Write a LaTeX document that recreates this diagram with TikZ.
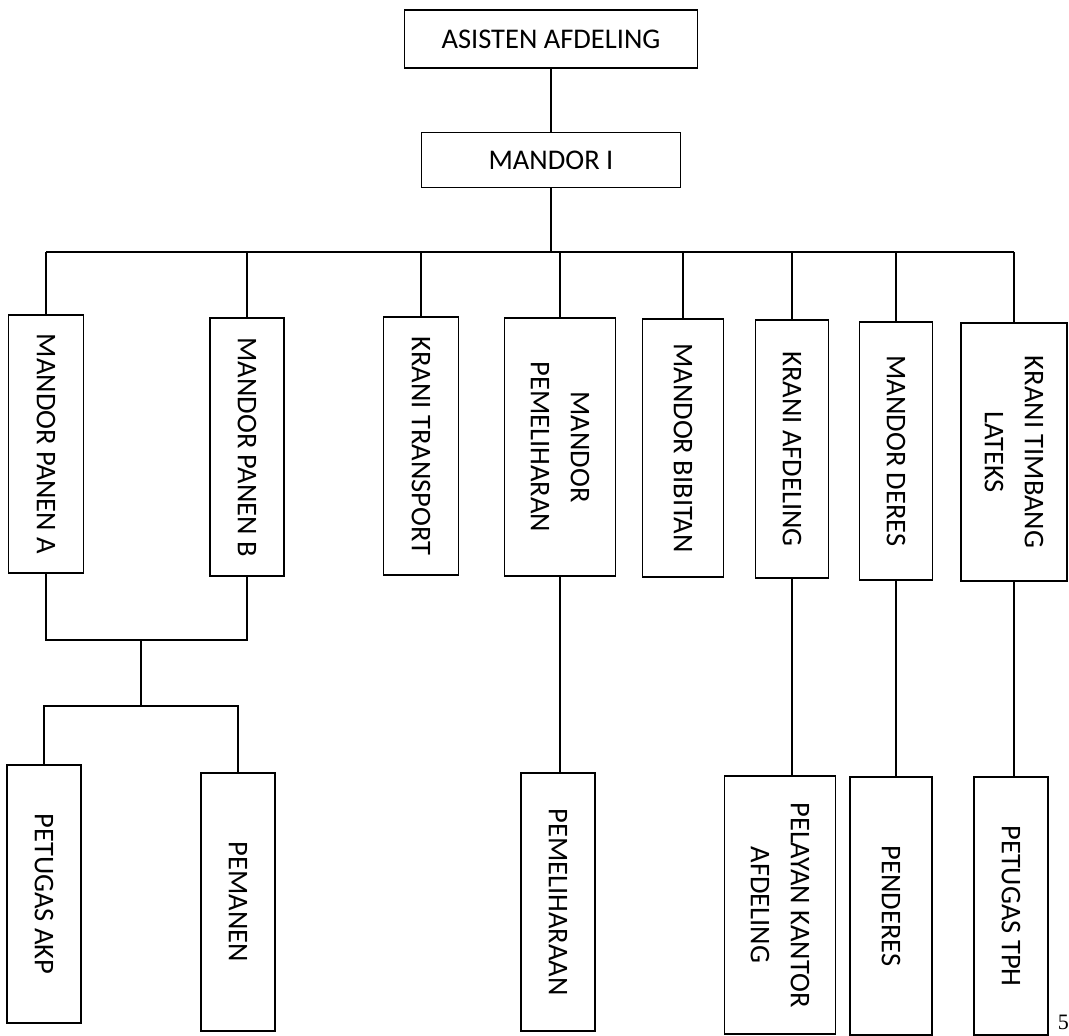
\documentclass[tikz,border=0pt]{standalone}
\usepackage{fontspec}
\setmainfont{Carlito}
\newfontfamily\pagefont{Liberation Serif}
\tikzset{
  box/.style={draw, line width=1.4pt, inner sep=2pt, align=center, font=\fontsize{28.5}{40}\selectfont},
  vbox/.style={box, rotate=-90, minimum width=258pt, minimum height=#1},
  link/.style={line width=1.4pt},
}

\begin{document}
\begin{tikzpicture}[x=1pt,y=-1pt]
  \useasboundingbox (0,0) rectangle (1069,1036);
  \node[box, minimum width=293pt, minimum height=58pt] (asisten) at (551,39) {ASISTEN AFDELING};
  \node[box, minimum width=259pt, minimum height=55pt] (mandor1) at (551,160) {MANDOR I};

  \node[vbox=75pt] (panenA) at (46,444) {MANDOR PANEN A};
  \node[vbox=74pt] (panenB) at (247,447) {MANDOR PANEN B};
  \node[vbox=75pt] (transport) at (421,446) {KRANI TRANSPORT};
  \node[vbox=111pt] (mpelihara) at (560,447) {MANDOR\\PEMELIHARAN};
  \node[vbox=81pt] (bibitan) at (683,448) {MANDOR BIBITAN};
  \node[vbox=73pt] (kafdeling) at (792,449) {KRANI AFDELING};
  \node[vbox=73pt] (deres) at (896,451) {MANDOR DERES};
  \node[vbox=106pt] (timbang) at (1014,452) {KRANI TIMBANG\\LATEKS};

  \node[vbox=74pt] (akp) at (44,894) {PETUGAS AKP};
  \node[vbox=74pt] (pemanen) at (238,902) {PEMANEN};
  \node[vbox=74pt] (pelihara) at (558,902) {PEMELIHARAAN};
  \node[vbox=111pt] (pelayan) at (780,905) {PELAYAN KANTOR\\AFDELING};
  \node[vbox=82pt] (penderes) at (891,906) {PENDERES};
  \node[vbox=74pt] (tph) at (1011,906) {PETUGAS TPH};

  \node[font=\pagefont\fontsize{22}{22}\selectfont, anchor=east, inner sep=0pt] (page) at (1069,1022) {5};

  \coordinate (bus) at (551,252);
  \draw[link] (asisten) -- (mandor1);
  \draw[link] (mandor1.south) -- (bus);
  \draw[link] (panenA.west |- bus) -- (timbang.west |- bus);
  \foreach \n in {panenA,panenB,transport,mpelihara,bibitan,kafdeling,deres,timbang}
    \draw[link] (\n.west |- bus) -- (\n.west);

  \coordinate (panenjoin) at (141,640);
  \coordinate (workjoin) at (141,706);
  \draw[link] (panenA.east) |- (panenjoin) -| (panenB.east);
  \draw[link] (panenjoin) -- (workjoin);
  \draw[link] (akp.west) |- (workjoin) -| (pemanen.west);

  \foreach \a/\b in {mpelihara/pelihara,kafdeling/pelayan,deres/penderes,timbang/tph}
    \draw[link] (\a.east) -- (\a.east |- \b.west);
\end{tikzpicture}
\end{document}
